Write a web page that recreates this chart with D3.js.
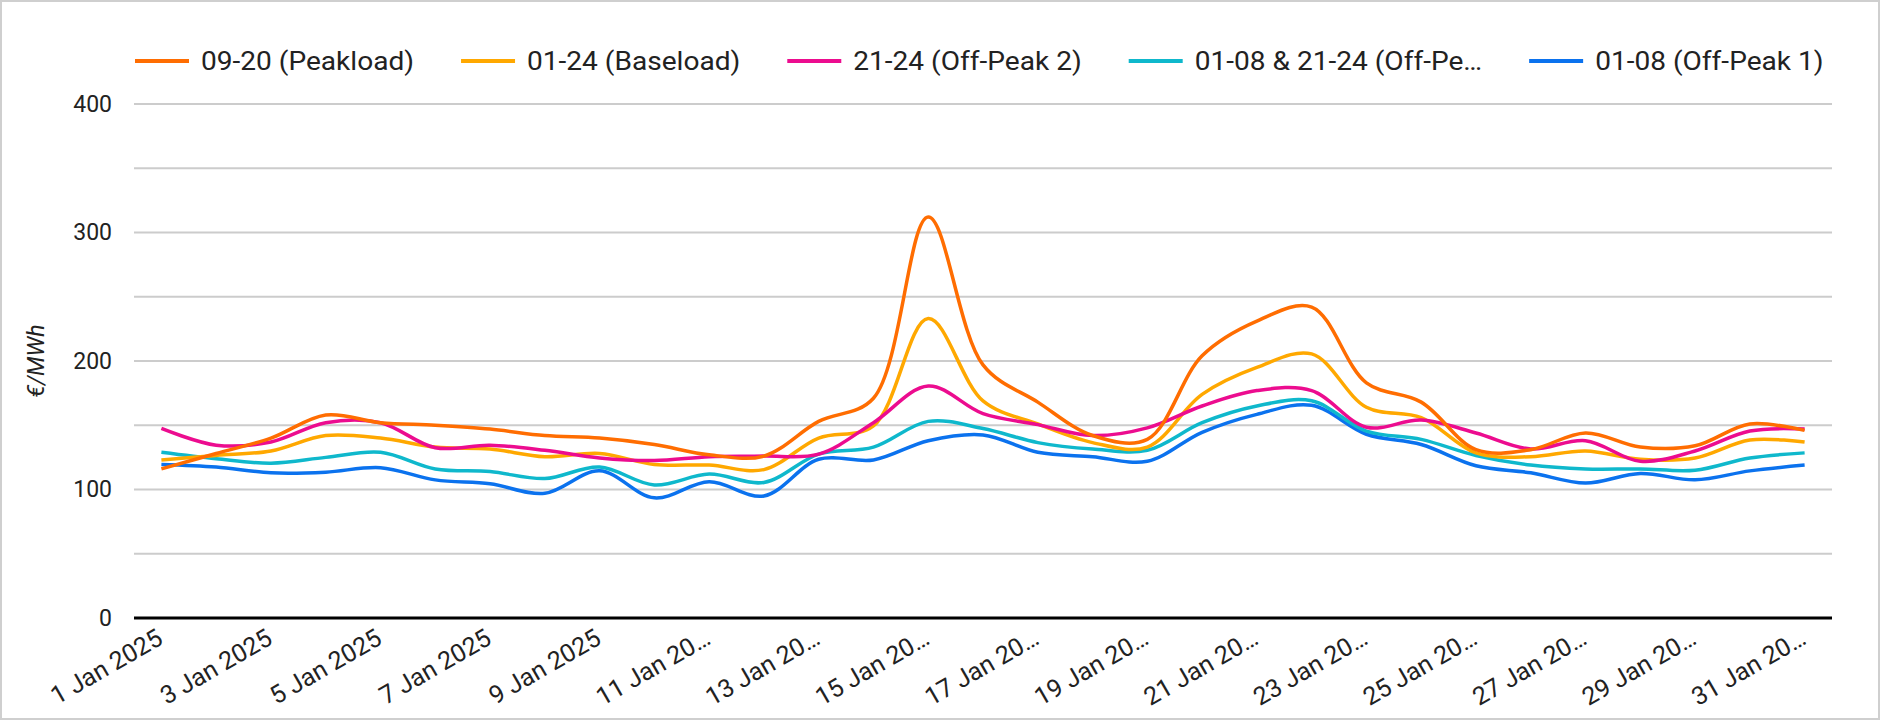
<!DOCTYPE html>
<html>
<head>
<meta charset="utf-8">
<script src="https://cdn.jsdelivr.net/npm/d3@7/dist/d3.min.js"></script>
<style>
  body { margin: 0; background: #fff; }
  svg { display: block; font-family: Roboto, "Noto Sans", sans-serif; }
</style>
</head>
<body>
<svg></svg>
<script>
// daily prices, January 2025 (EUR/MWh)
const dates = ["2025-01-01", "2025-01-02", "2025-01-03", "2025-01-04", "2025-01-05", "2025-01-06",
               "2025-01-07", "2025-01-08", "2025-01-09", "2025-01-10", "2025-01-11", "2025-01-12",
               "2025-01-13", "2025-01-14", "2025-01-15", "2025-01-16", "2025-01-17", "2025-01-18",
               "2025-01-19", "2025-01-20", "2025-01-21", "2025-01-22", "2025-01-23", "2025-01-24",
               "2025-01-25", "2025-01-26", "2025-01-27", "2025-01-28", "2025-01-29", "2025-01-30",
               "2025-01-31"];

const peakload = [116, 128, 140, 158, 152, 150, 147, 142, 140, 135, 127, 126, 153, 171, 312, 197,
                  168, 142, 139, 204, 231, 242, 183, 168, 131, 131, 144, 133, 134, 151, 146];
const baseload = [123, 126.5, 130, 142, 140, 133, 131.5, 125.5, 128, 119.5, 119, 115.5, 140, 149.5, 233, 169,
                  151, 136.5, 133, 174, 195, 205.5, 164, 156, 128.5, 125.5, 130, 123.5, 124.5, 138.5, 137];
const offPeak2 = [147.5, 134.5, 137, 152, 152, 132.5, 134.5, 130.5, 124.5, 122.5, 125.5, 126, 127.5, 152, 180.5, 159,
                  150.5, 142, 148, 165, 177, 177, 148.5, 154, 144, 131.5, 138, 122, 130, 145.5, 147];
const offPeakBoth = [129, 124, 120.5, 125, 129, 116, 114, 108.5, 117.5, 103.5, 112, 105.5, 127.5, 133, 153, 147.5,
                     136.5, 131.5, 130.5, 152, 165, 169, 145.5, 139, 126.5, 119, 116, 116, 115, 124.5, 128.5];
const offPeak1 = [119.5, 117.5, 113, 113.5, 117, 107.5, 104.5, 97, 114.5, 93.5, 106, 95, 123.5, 123, 138, 142.5,
                  129, 125.5, 122, 144.5, 158.5, 165.5, 143, 135, 118.5, 113, 105, 112.5, 107.5, 114.5, 119];

// legend order as in the reference
const seriesNames = ["09-20 (Peakload)", "01-24 (Baseload)", "21-24 (Off-Peak 2)",
                     "01-08 & 21-24 (Off-Pe…", "01-08 (Off-Peak 1)"];
const seriesColors = ["#ff6d01", "#ffa800", "#ec0c8f", "#0fb8cc", "#0b72ee"];
const seriesValues = [peakload, baseload, offPeak2, offPeakBoth, offPeak1];

// every other day gets a label; long ones are cut like in the reference
const tickDates = ["2025-01-01", "2025-01-03", "2025-01-05", "2025-01-07", "2025-01-09", "2025-01-11",
                   "2025-01-13", "2025-01-15", "2025-01-17", "2025-01-19", "2025-01-21", "2025-01-23",
                   "2025-01-25", "2025-01-27", "2025-01-29", "2025-01-31"];
const tickLabels = ["1 Jan 2025", "3 Jan 2025", "5 Jan 2025", "7 Jan 2025", "9 Jan 2025", "11 Jan 20…",
                    "13 Jan 20…", "15 Jan 20…", "17 Jan 20…", "19 Jan 20…", "21 Jan 20…", "23 Jan 20…",
                    "25 Jan 20…", "27 Jan 20…", "29 Jan 20…", "31 Jan 20…"];
const yTicks = [0, 100, 200, 300, 400];
const yGrid = [50, 100, 150, 200, 250, 300, 350, 400];

// chart layout
const w = 1880;
const h = 720;
const plotLeft = 134;
const plotRight = 1832;
const plotTop = 104;
const plotBottom = 618;
// the reference legend text is a little wider than plain Roboto
const stretch = 1.08;

const svg = d3.select("svg")
              .attr("width", w)
              .attr("height", h);

// outer frame
svg.append("rect")
   .attr("x", 1)
   .attr("y", 1)
   .attr("width", w - 2)
   .attr("height", h - 2)
   .attr("fill", "#fff")
   .attr("stroke", "#cfcfcf")
   .attr("stroke-width", 2);

const xScale = d3.scalePoint()
                 .domain(dates)
                 .range([plotLeft, plotRight])
                 .padding(0.5);

const yScale = d3.scaleLinear()
                 .domain([0, 400])
                 .range([plotBottom, plotTop]);

// horizontal gridlines
svg.append("g")
   .selectAll("line")
   .data(yGrid)
   .enter()
   .append("line")
   .attr("x1", plotLeft)
   .attr("x2", plotRight)
   .attr("y1", (d) => yScale(d))
   .attr("y2", (d) => yScale(d))
   .attr("stroke", "#cccccc")
   .attr("stroke-width", 2);

// y axis labels
const yAxis = d3.axisLeft(yScale)
                .tickValues(yTicks)
                .tickSize(0)
                .tickPadding(22);

svg.append("g")
   .attr("transform", "translate(" + plotLeft + ",0)")
   .call(yAxis)
   .call((g) => g.select(".domain").remove())
   .selectAll("text")
   .attr("font-size", 23)
   .attr("font-family", "Roboto")
   .attr("fill", "#222");

// y axis title
svg.append("text")
   .attr("transform", "translate(44," + ((plotTop + plotBottom) / 2) + ") rotate(-90)")
   .attr("text-anchor", "middle")
   .attr("font-size", 23)
   .attr("font-style", "italic")
   .attr("fill", "#222")
   .text("€/MWh");

// lines
const line = d3.line()
               .x((d, i) => xScale(dates[i]))
               .y((d) => yScale(d))
               .curve(d3.curveCatmullRom.alpha(0.5));

// draw back to front so peakload ends up on top like the reference
const order = [4, 3, 1, 2, 0];
svg.append("g")
   .selectAll("path")
   .data(order)
   .enter()
   .append("path")
   .attr("fill", "none")
   .attr("stroke", (k) => seriesColors[k])
   .attr("stroke-width", 3.5)
   .attr("stroke-linejoin", "round")
   .attr("d", (k) => line(seriesValues[k]));

// zero baseline
svg.append("line")
   .attr("x1", plotLeft)
   .attr("x2", plotRight)
   .attr("y1", yScale(0))
   .attr("y2", yScale(0))
   .attr("stroke", "#000")
   .attr("stroke-width", 3);

// x axis labels, slanted
svg.append("g")
   .selectAll("text")
   .data(tickDates)
   .enter()
   .append("text")
   .attr("transform", (d) => "translate(" + (xScale(d) + 3) + "," + (yScale(0) + 25) + ") rotate(-30)")
   .attr("text-anchor", "end")
   .attr("font-size", 25)
   .attr("fill", "#222")
   .text((d, i) => tickLabels[i]);

// legend, laid out left to right
const legend = svg.append("g")
                  .attr("transform", "translate(135, 61)");
var lx = 0;
seriesNames.forEach((name, k) => {
  const item = legend.append("g")
                     .attr("transform", "translate(" + lx + ",0)");
  item.append("line")
      .attr("x1", 0)
      .attr("x2", 54)
      .attr("stroke", seriesColors[k])
      .attr("stroke-width", 4);
  const txt = item.append("text")
                  .attr("transform", "translate(66,0) scale(" + stretch + ",1)")
                  .attr("dy", "0.35em")
                  .attr("font-size", 26)
                  .attr("fill", "#222")
                  .text(name);
  lx += 66 + txt.node().getComputedTextLength() * stretch + 47;
});
</script>
</body>
</html>
